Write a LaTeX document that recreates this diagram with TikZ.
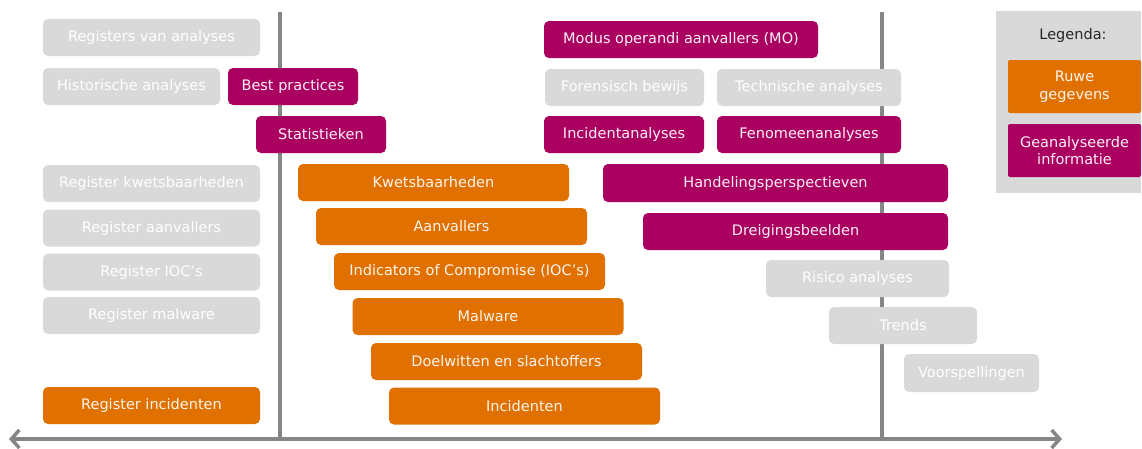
\documentclass[tikz,border=0pt]{standalone}
\usepackage{fontspec}
\setmainfont{DejaVu Sans}
\usepackage{tikz}
\usetikzlibrary{arrows.meta}

\definecolor{grijs}{RGB}{217,217,217}
\definecolor{lijngrijs}{RGB}{134,134,134}
\definecolor{oranje}{RGB}{224,112,0}
\definecolor{paars}{RGB}{170,0,95}

\tikzset{
	blok/.style={rounded corners=5pt, inner sep=0pt, minimum height=37pt, text=white, align=center, font=\fontsize{14.5}{17.5}\selectfont},
	grijsblok/.style={blok, fill=grijs},
	ruwblok/.style={blok, fill=oranje, text=white!92!orange},
	analyseblok/.style={blok, fill=paars, text=white!94!magenta},
	as/.style={draw=lijngrijs, line width=3.5pt}
}

\begin{document}
\begin{tikzpicture}[x=1pt, y=-1pt]

	\useasboundingbox (0,0) rectangle (1142,448);

	\coordinate (links) at (9,439);
	\coordinate (rechts) at (1062,439);
	\coordinate (boven1) at (280,12);
	\coordinate (onder1) at (280,439);
	\coordinate (boven2) at (882,12);
	\coordinate (onder2) at (882,439);

	\draw[as] (boven1) -- (onder1);
	\draw[as] (boven2) -- (onder2);
	\draw[as, {Straight Barb[length=8pt,width=18pt]}-{Straight Barb[length=8pt,width=18pt]}] (links) -- (rechts);

	
	\node[grijsblok, minimum width=217pt] (regana) at (151.5,37.5) {Registers van analyses};
	\node[grijsblok, minimum width=177pt] (hist) at (131.5,86.5) {Historische analyses};
	\node[analyseblok, minimum width=130pt] (best) at (293,86.5) {Best practices};
	\node[analyseblok, minimum width=130pt] (stat) at (321,134.5) {Statistieken};

	\node[grijsblok, minimum width=217pt] (regkw) at (151.5,183.5) {Register kwetsbaarheden};
	\node[grijsblok, minimum width=217pt] (regaa) at (151.5,228) {Register aanvallers};
	\node[grijsblok, minimum width=217pt] (regioc) at (151.5,272) {Register IOC’s};
	\node[grijsblok, minimum width=217pt] (regmal) at (151.5,315.5) {Register malware};
	\node[ruwblok, minimum width=217pt] (reginc) at (151.5,405.5) {Register incidenten};

	
	\node[ruwblok, minimum width=271pt] (kwets) at (433.5,182.5) {Kwetsbaarheden};
	\node[ruwblok, minimum width=271pt] (aanv) at (451.5,226.5) {Aanvallers};
	\node[ruwblok, minimum width=271pt] (ioc) at (469.5,271.5) {Indicators of Compromise (IOC’s)};
	\node[ruwblok, minimum width=271pt] (malw) at (488,316.5) {Malware};
	\node[ruwblok, minimum width=271pt] (doel) at (506.5,361.5) {Doelwitten en slachtoffers};
	\node[ruwblok, minimum width=271pt] (inc) at (524.5,406) {Incidenten};

	
	\node[analyseblok, minimum width=274pt] (modus) at (681,39.5) {Modus operandi aanvallers (MO)};
	\node[grijsblok, minimum width=159pt] (foren) at (624.5,87.5) {Forensisch bewijs};
	\node[grijsblok, minimum width=184pt] (techn) at (809,87.5) {Technische analyses};
	\node[analyseblok, minimum width=160pt] (incan) at (624,134.5) {Incidentanalyses};
	\node[analyseblok, minimum width=184pt] (fenom) at (809,134.5) {Fenomeenanalyses};
	\node[analyseblok, minimum width=345pt, minimum height=38pt] (handel) at (775.5,183) {Handelingsperspectieven};
	\node[analyseblok, minimum width=305pt] (dreig) at (795.5,231.5) {Dreigingsbeelden};

	
	\node[grijsblok, minimum width=183pt] (risico) at (857.5,278.5) {Risico analyses};
	\node[grijsblok, minimum width=148pt] (trends) at (903,325.5) {Trends};
	\node[grijsblok, minimum width=135pt, minimum height=38pt] (voorsp) at (971.5,373) {Voorspellingen};

	
	\node[fill=grijs, minimum width=145pt, minimum height=182pt, inner sep=0pt] (legenda) at (1068.5,102) {};
	\node[font=\fontsize{14.5}{17.5}\selectfont, text=black!85] (legtitel) at (1073,35) {Legenda:};
	\node[ruwblok, rounded corners=2pt, minimum width=133pt, minimum height=53pt] (ruwe) at (1074.5,86.5) {Ruwe\\gegevens};
	\node[analyseblok, rounded corners=2pt, minimum width=133pt, minimum height=53pt] (geanal) at (1074.5,150.5) {Geanalyseerde\\informatie};
\end{tikzpicture}
\end{document}
